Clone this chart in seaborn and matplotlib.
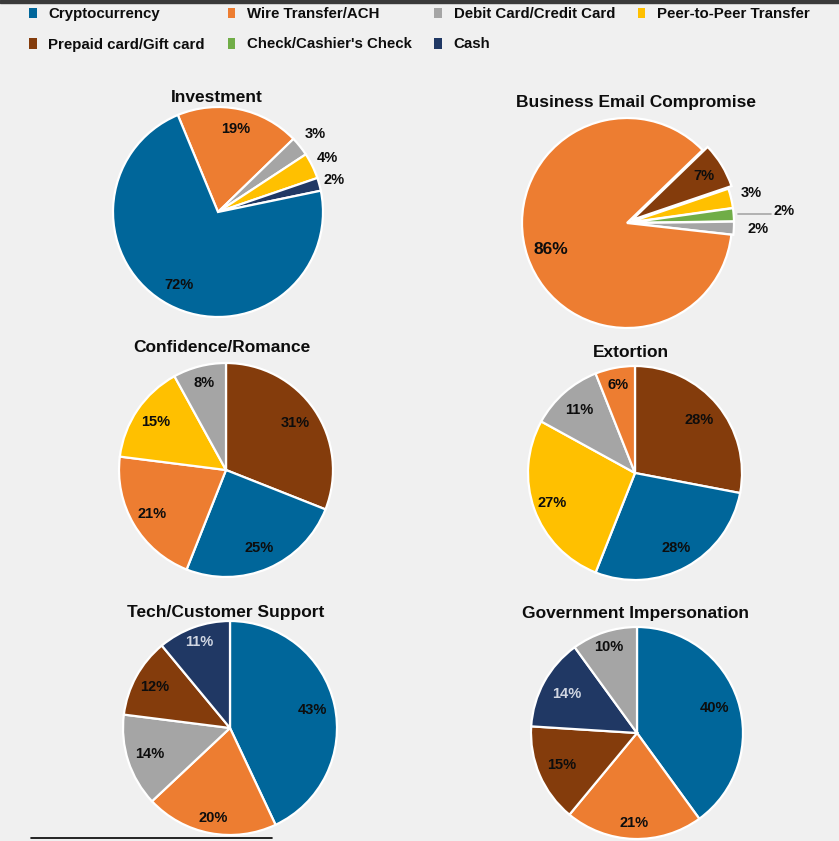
import numpy as np
import seaborn as sns
from matplotlib import pyplot as plt
from matplotlib import font_manager
from matplotlib.patches import Patch, Rectangle
from matplotlib.lines import Line2D

W, H = 839, 841

methods = ["Cryptocurrency", "Wire Transfer/ACH", "Debit Card/Credit Card", "Peer-to-Peer Transfer",
           "Prepaid card/Gift card", "Check/Cashier's Check", "Cash"]
method_colors = ["#00669A", "#ED7D31", "#A5A5A5", "#FFC000", "#843C0C", "#70AD47", "#203864"]

# slices listed clockwise, in the order they appear on each pie
inv_methods = ["Wire Transfer/ACH", "Debit Card/Credit Card", "Peer-to-Peer Transfer", "Cash", "Cryptocurrency"]
inv_pct = [19, 3, 4, 2, 72]
bec_methods = ["Prepaid card/Gift card", "Peer-to-Peer Transfer", "Check/Cashier's Check",
               "Debit Card/Credit Card", "Wire Transfer/ACH"]
bec_pct = [7, 3, 2, 2, 86]
rom_methods = ["Prepaid card/Gift card", "Cryptocurrency", "Wire Transfer/ACH", "Peer-to-Peer Transfer",
               "Debit Card/Credit Card"]
rom_pct = [31, 25, 21, 15, 8]
ext_methods = ["Prepaid card/Gift card", "Cryptocurrency", "Peer-to-Peer Transfer", "Debit Card/Credit Card",
               "Wire Transfer/ACH"]
ext_pct = [28, 28, 27, 11, 6]
tech_methods = ["Cryptocurrency", "Wire Transfer/ACH", "Debit Card/Credit Card", "Prepaid card/Gift card", "Cash"]
tech_pct = [43, 20, 14, 12, 11]
gov_methods = ["Cryptocurrency", "Wire Transfer/ACH", "Prepaid card/Gift card", "Cash", "Debit Card/Credit Card"]
gov_pct = [40, 21, 15, 14, 10]

sns.set_theme(style="white")
names = {f.name for f in font_manager.fontManager.ttflist}
font = "Liberation Sans" if "Liberation Sans" in names else "DejaVu Sans"
plt.rcParams["font.family"] = [font, "DejaVu Sans"]
plt.rcParams["font.weight"] = "bold"

palette = dict(zip(methods, sns.color_palette(method_colors)))

# layout in pixel coords (y measured from the top)
panels = [
    dict(title="Investment", tx=217, ty=102, m=inv_methods, v=inv_pct, c=(218, 212), r=105, start=112.5,
         dist=[0.81, 1.19, 1.16, 1.15, 0.79], expl=[0, 0, 0, 0, 0], fs=[10.5] * 5),
    dict(title="Business Email Compromise", tx=636, ty=107, m=bec_methods, v=bec_pct, c=(627, 223), r=105,
         start=44, dist=[0.8, 1.2, 1.48, 1.23, 0.77], expl=[6, 2, 2, 2, 0], fs=[10.5, 10.5, 10.5, 10.5, 12.5]),
    dict(title="Confidence/Romance", tx=222, ty=352, m=rom_methods, v=rom_pct, c=(226, 470), r=107, start=90,
         dist=[0.78, 0.79, 0.8, 0.79, 0.84], expl=[0] * 5, fs=[10.5] * 5),
    dict(title="Extortion", tx=631, ty=357, m=ext_methods, v=ext_pct, c=(635, 473), r=107, start=90,
         dist=[0.78, 0.8, 0.82, 0.79, 0.84], expl=[0] * 5, fs=[10.5] * 5),
    dict(title="Tech/Customer Support", tx=226, ty=617, m=tech_methods, v=tech_pct, c=(230, 728), r=107,
         start=90, dist=[0.79, 0.86, 0.79, 0.8, 0.85], expl=[0] * 5, fs=[10.5] * 5),
    dict(title="Government Impersonation", tx=636, ty=618, m=gov_methods, v=gov_pct, c=(637, 733), r=106,
         start=90, dist=[0.77, 0.85, 0.77, 0.76, 0.85], expl=[0] * 5, fs=[10.5] * 5),
]

fig = plt.figure(figsize=(W / 100, H / 100), dpi=100)
fig.patch.set_facecolor("#F0F0F0")
ax = fig.add_axes([0, 0, 1, 1])
ax.set_facecolor("#F0F0F0")

for p in panels:
    cx, cy = p["c"][0], H - p["c"][1]
    wedges, _ = ax.pie(p["v"], colors=[palette[k] for k in p["m"]], startangle=p["start"],
                       counterclock=False, center=(cx, cy), radius=p["r"], explode=p["expl"],
                       frame=True, wedgeprops=dict(edgecolor="white", linewidth=1.6))
    for w, val, d, fs, name in zip(wedges, p["v"], p["dist"], p["fs"], p["m"]):
        ang = np.deg2rad((w.theta1 + w.theta2) / 2)
        x = w.center[0] + d * w.r * np.cos(ang)
        y = w.center[1] + d * w.r * np.sin(ang)
        # light text only when the label sits on the dark navy slice
        col = "#D0D6E2" if (name == "Cash" and d < 1) else "#0D0D0D"
        ax.text(x, y, f"{val}%", ha="center", va="center", fontsize=fs, fontweight="bold", color=col)
        if d > 1.4:
            # leader line for the label placed far outside
            r0, r1 = 1.04 * w.r, (d - 0.12) * w.r
            ax.add_line(Line2D([w.center[0] + r0 * np.cos(ang), w.center[0] + r1 * np.cos(ang)],
                               [w.center[1] + r0 * np.sin(ang), w.center[1] + r0 * np.sin(ang)],
                               color="#A6A6A6", lw=1.2))
    ax.text(p["tx"], H - p["ty"], p["title"], ha="center", va="baseline", fontsize=12.5,
            fontweight="bold", color="#0D0D0D")

ax.set_xlim(0, W)
ax.set_ylim(0, H)
ax.set_axis_off()

# legend: matplotlib fills columns first, so reorder to get the two rows
order = [0, 4, 1, 5, 2, 6, 3]
handles = [Patch(facecolor=method_colors[i], edgecolor="none") for i in order]
labels = [methods[i] for i in order]
fig.legend(handles, labels, loc="upper left", bbox_to_anchor=(29 / W, 1 - 7 / H), ncol=4, frameon=False,
           borderaxespad=0, borderpad=0, fontsize=10.8, handlelength=0.5, handleheight=0.7,
           handletextpad=0.8, columnspacing=1.5, labelspacing=1.1, labelcolor="#0D0D0D")

# thin dark strip at the top and short rule at the bottom
fig.patches.append(Rectangle((0, 1 - 3 / H), 1, 3 / H, transform=fig.transFigure, color="#3A3A3A",
                             zorder=5))
fig.add_artist(Line2D([31 / W, 272 / W], [1 - 838 / H, 1 - 838 / H], transform=fig.transFigure,
                      color="black", lw=1.2))

fig.savefig("out.png", dpi=100, facecolor=fig.get_facecolor())
